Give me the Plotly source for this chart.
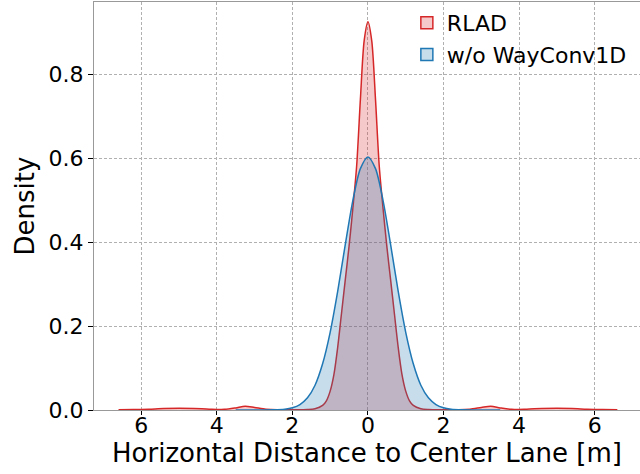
import plotly.graph_objects as go

# ---- data ----
rlad_x = [-6.6, -6.2, -5.8, -5.4, -5.0, -4.6, -4.2, -3.8, -3.5, -3.25, -3.0, -2.7, -2.4, -2.0,
          -1.6, -1.4, -1.2, -1.1, -1.0, -0.9, -0.8, -0.7, -0.6, -0.5, -0.4, -0.3, -0.2, -0.1,
          0.0,
          0.1, 0.2, 0.3, 0.4, 0.5, 0.6, 0.7, 0.8, 0.9, 1.0, 1.1, 1.2, 1.4, 1.6,
          2.0, 2.4, 2.7, 3.0, 3.25, 3.5, 3.8, 4.2, 4.6, 5.0, 5.4, 5.8, 6.2, 6.6]
rlad_y = [0.0003, 0.001, 0.002, 0.0035, 0.004, 0.0035, 0.002, 0.0015, 0.005, 0.009, 0.006, 0.002, 0.0005, 0.0005,
          0.001, 0.003, 0.011, 0.022, 0.045, 0.085, 0.15, 0.23, 0.31, 0.39, 0.48, 0.58, 0.74, 0.88,
          0.925,
          0.88, 0.74, 0.58, 0.48, 0.39, 0.31, 0.23, 0.15, 0.085, 0.045, 0.022, 0.011, 0.003, 0.001,
          0.0005, 0.0005, 0.002, 0.006, 0.009, 0.005, 0.0015, 0.002, 0.0035, 0.004, 0.0035, 0.002, 0.001, 0.0003]

woway_x = [-3.5, -3.0, -2.5, -2.2, -2.0, -1.8, -1.6, -1.4, -1.2, -1.0, -0.8, -0.6, -0.4, -0.2,
           0.0,
           0.2, 0.4, 0.6, 0.8, 1.0, 1.2, 1.4, 1.6, 1.8, 2.0, 2.2, 2.5, 3.0, 3.5]
woway_y = [0.0, 0.0001, 0.0005, 0.002, 0.0053, 0.013, 0.029, 0.059, 0.11, 0.185, 0.283, 0.394, 0.499, 0.575,
           0.603,
           0.575, 0.499, 0.394, 0.283, 0.185, 0.11, 0.059, 0.029, 0.013, 0.0053, 0.002, 0.0005, 0.0001, 0.0]

series_names = ["RLAD", "w/o WayConv1D"]
x_tick_vals = [-6, -4, -2, 0, 2, 4, 6]
x_tick_text = ["6", "4", "2", "0", "2", "4", "6"]
y_tick_vals = [0.0, 0.2, 0.4, 0.6, 0.8]
y_tick_text = ["0.0", "0.2", "0.4", "0.6", "0.8"]

RED = "#d62728"
BLUE = "#1f77b4"
RED_FILL = "rgba(214,39,40,0.25)"
BLUE_FILL = "rgba(31,119,180,0.25)"

fig = go.Figure()
fig.add_trace(go.Scatter(x=rlad_x, y=rlad_y, mode="lines", line=dict(color=RED, width=1.5, shape="spline", smoothing=0.8),
                         fill="tozeroy", fillcolor=RED_FILL, showlegend=False, hoverinfo="skip"))
fig.add_trace(go.Scatter(x=woway_x, y=woway_y, mode="lines", line=dict(color=BLUE, width=1.5, shape="spline", smoothing=0.8),
                         fill="tozeroy", fillcolor=BLUE_FILL, showlegend=False, hoverinfo="skip"))
# legend patches
fig.add_trace(go.Bar(x=[None], y=[None], name=series_names[0], marker=dict(color=RED_FILL, line=dict(color=RED, width=1.5))))
fig.add_trace(go.Bar(x=[None], y=[None], name=series_names[1], marker=dict(color=BLUE_FILL, line=dict(color=BLUE, width=1.5))))

FONT = "DejaVu Sans"
fig.update_layout(
    width=640, height=474,
    margin=dict(l=94, r=0, t=2, b=64, autoexpand=False),
    paper_bgcolor="white", plot_bgcolor="white",
    font=dict(family=FONT, size=22, color="black"),
    showlegend=True,
    legend=dict(x=0.573, y=1.0, xanchor="left", yanchor="top", bgcolor="rgba(0,0,0,0)",
                font=dict(size=22), tracegroupgap=0, itemwidth=30),
)
fig.update_xaxes(range=[-7.25, 7.2], tickvals=x_tick_vals, ticktext=x_tick_text,
                 showgrid=True, gridcolor="#b0b0b0", griddash="3px,2px", gridwidth=1,
                 showline=True, linecolor="#999999", linewidth=1, mirror=True,
                 ticks="outside", ticklen=4, tickcolor="black", zeroline=False, automargin=False,
                 ticklabelstandoff=-8,
                 title=dict(text="Horizontal Distance to Center Lane [m]", standoff=2))
fig.update_yaxes(range=[0, 0.972], tickvals=y_tick_vals, ticktext=y_tick_text,
                 showgrid=True, gridcolor="#b0b0b0", griddash="3px,2px", gridwidth=1,
                 showline=True, linecolor="#999999", linewidth=1, mirror=False,
                 ticks="outside", ticklen=5, tickcolor="black", zeroline=False, automargin=False,
                 title=dict(text="Density", standoff=6))

fig.write_html("out.html", config={"displayModeBar": False},
               post_script="document.body.style.margin='0';")
